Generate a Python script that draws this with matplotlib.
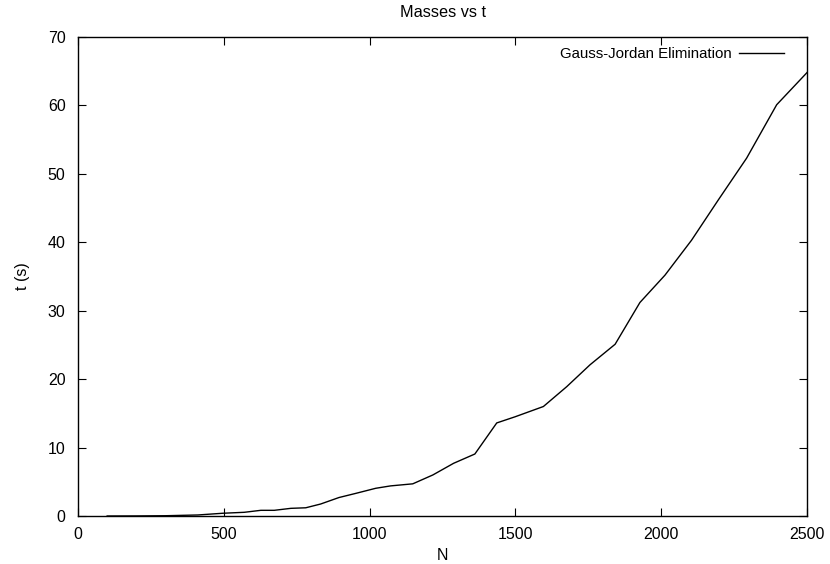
import matplotlib
matplotlib.use("Agg")
import matplotlib.pyplot as plt

N = [100, 200, 300, 411, 496, 570, 627, 673, 730, 781, 832, 895, 952, 1021,
     1072, 1148, 1217, 1288, 1361, 1436, 1499, 1596, 1676, 1756, 1842, 1927,
     2013, 2104, 2196, 2293, 2396, 2500]
t = [0.0, 0.01, 0.04, 0.15, 0.4, 0.54, 0.83, 0.83, 1.12, 1.2, 1.75, 2.7, 3.3,
     4.05, 4.4, 4.7, 6.0, 7.7, 9.06, 13.6, 14.5, 16.0, 18.9, 22.1, 25.1, 31.2,
     35.2, 40.3, 46.2, 52.3, 60.1, 64.8]

title = "Masses vs t"
xlabel = "N"
ylabel = "t (s)"
label = "Gauss-Jordan Elimination"
xticks = [0, 500, 1000, 1500, 2000, 2500]
yticks = [0, 10, 20, 30, 40, 50, 60, 70]

plt.rcParams['font.family'] = ['Liberation Sans', 'DejaVu Sans']
fig = plt.figure(figsize=(8.3, 5.64), dpi=100)
ax = fig.add_axes([78/830, 1-516/564, (807-78)/830, (516-37)/564])
ax.plot(N, t, color='black', lw=1.0, label=label)
ax.set_xlim(0, 2500)
ax.set_ylim(0, 70)
ax.set_xticks(xticks)
ax.set_yticks(yticks)
ax.tick_params(direction='in', length=6, width=0.8, top=True, right=True,
               labelsize=11.5)
ax.tick_params(axis='x', pad=8)
ax.tick_params(axis='y', pad=9)
for s in ax.spines.values():
    s.set_linewidth(1.0)
ax.set_title(title, fontsize=11.7, pad=14.5)
ax.set_xlabel(xlabel, fontsize=11.5, labelpad=4.5)
ax.set_ylabel(ylabel, fontsize=11.5, labelpad=13)
leg = ax.legend(loc='upper right', bbox_to_anchor=(0.977, 0.992), frameon=False,
                fontsize=10.8, markerfirst=False, handlelength=3.0,
                handletextpad=0.48, borderaxespad=0.0, borderpad=0.4)
fig.savefig("out.png", dpi=100)
